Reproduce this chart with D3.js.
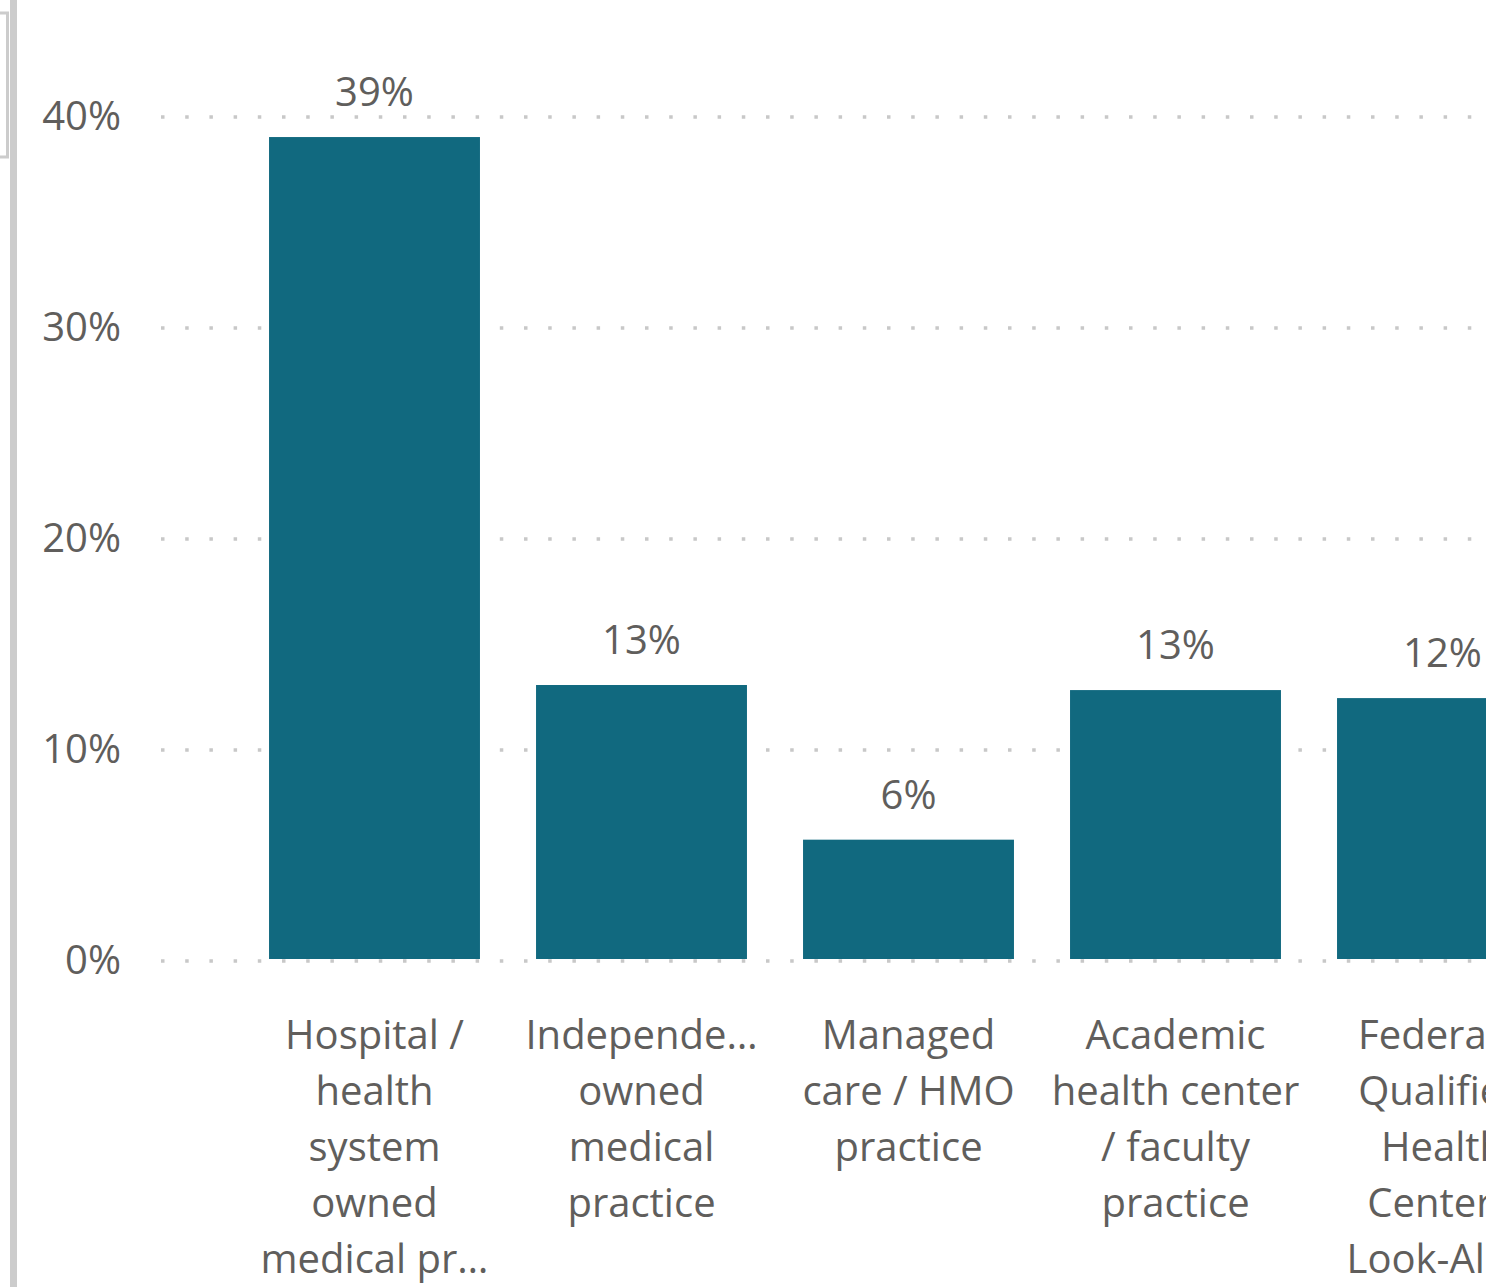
<!DOCTYPE html>
<html>
<head>
<meta charset="utf-8">
<script src="https://cdn.jsdelivr.net/npm/d3@7"></script>
<style>
  html, body { margin: 0; padding: 0; background: #fff; overflow: hidden; }
  svg { display: block; font-family: "Segoe UI", "Open Sans", sans-serif; }
</style>
</head>
<body>
<svg id="chart" width="1486" height="1287"></svg>
<script>
// categories (full names) and the wrapped / truncated lines shown under each bar
const categories = [
  "Hospital / health system owned medical practice",
  "Independently owned medical practice",
  "Managed care / HMO practice",
  "Academic health center / faculty practice",
  "Federally Qualified Health Center / Look-Alike"
];
const categoryLines = [
  ["Hospital /", "health", "system", "owned", "medical pr…"],
  ["Independe…", "owned", "medical", "practice"],
  ["Managed", "care / HMO", "practice"],
  ["Academic", "health center", "/ faculty", "practice"],
  ["Federally", "Qualified", "Health", "Center /", "Look-Alike"]
];
// share of respondents, in percent
const shares = [39.05, 13.08, 5.75, 12.84, 12.46];
const yTicks = [0, 10, 20, 30, 40];

const barColor = "#11697f";
const textColor = "#605e5c";
const gridColor = "#c8c8c8";

const svg = d3.select("#chart");

// left side frame pieces
svg.append("rect").attr("x", 10).attr("y", 0).attr("width", 7).attr("height", 1287).attr("fill", "#cccccc");
svg.append("path")
  .attr("d", "M0,13 H7.5 V157 H0")
  .attr("fill", "none").attr("stroke", "#cccccc").attr("stroke-width", 3);

const y = d3.scaleLinear().domain([0, 40]).range([961, 117]);

// band scale runs past the right edge, the picture is cropped there
const x = d3.scaleBand()
  .domain(categories)
  .range([241, 1576])
  .paddingInner(0.21)
  .paddingOuter(0.105);

// dotted gridlines behind the bars
svg.append("g")
  .selectAll("line")
  .data(yTicks)
  .join("line")
  .attr("x1", 161)
  .attr("x2", 1486)
  .attr("y1", d => y(d))
  .attr("y2", d => y(d))
  .attr("stroke", gridColor)
  .attr("stroke-width", 3.5)
  .attr("stroke-dasharray", "3.5,20.7");

// y axis labels
const yAxis = d3.axisLeft(y).tickValues(yTicks).tickFormat(d => d + "%").tickSize(0).tickPadding(0);
svg.append("g")
  .attr("transform", "translate(121,0)")
  .call(yAxis)
  .call(g => g.select(".domain").remove())
  .call(g => g.selectAll("text")
    .attr("fill", textColor)
    .style("font-size", "40px")
    .style("font-family", "'Segoe UI', 'Open Sans', sans-serif"));

// bars
svg.append("g")
  .selectAll("rect")
  .data(shares)
  .join("rect")
  .attr("x", (d, i) => x(categories[i]))
  .attr("width", x.bandwidth())
  .attr("y", d => y(d))
  .attr("height", d => y(0) - 2 - y(d))
  .attr("fill", barColor);

// value labels
svg.append("g")
  .selectAll("text")
  .data(shares)
  .join("text")
  .attr("x", (d, i) => x(categories[i]) + x.bandwidth() / 2)
  .attr("y", d => y(d) - 31)
  .attr("text-anchor", "middle")
  .attr("fill", textColor)
  .style("font-size", "40px")
  .text(d => Math.round(d) + "%");

// category labels
const cat = svg.append("g")
  .selectAll("text")
  .data(categoryLines)
  .join("text")
  .attr("text-anchor", "middle")
  .attr("fill", textColor)
  .style("font-size", "40px")
  .attr("transform", (d, i) => `translate(${x(categories[i]) + x.bandwidth() / 2},1049)`);

cat.selectAll("tspan")
  .data(d => d)
  .join("tspan")
  .attr("x", 0)
  .attr("y", (d, i) => i * 56)
  .text(d => d);
</script>
</body>
</html>
